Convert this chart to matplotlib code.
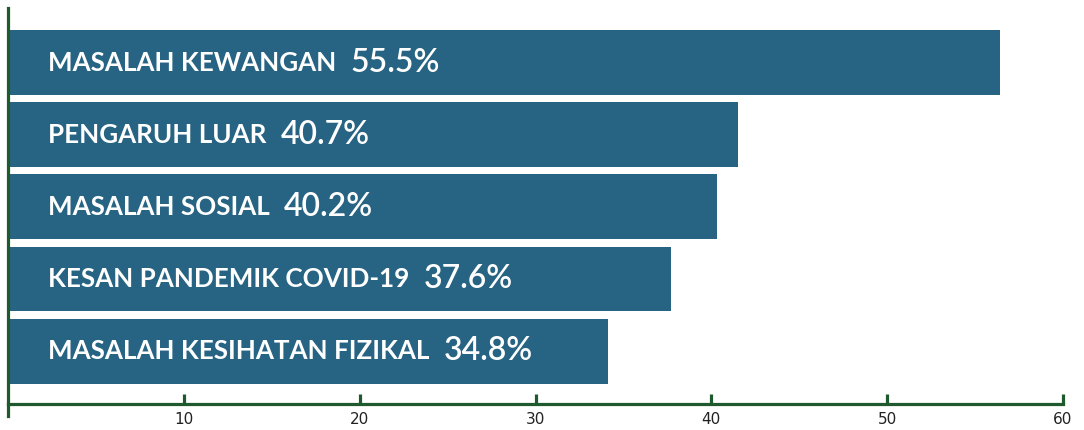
import matplotlib
matplotlib.use("Agg")
import matplotlib.pyplot as plt

categories = ["MASALAH KEWANGAN", "PENGARUH LUAR", "MASALAH SOSIAL",
              "KESAN PANDEMIK COVID-19", "MASALAH KESIHATAN FIZIKAL"]
pct_labels = ["55.5%", "40.7%", "40.2%", "37.6%", "34.8%"]
bar_lengths = [56.4, 41.5, 40.3, 37.7, 34.1]
xticks = [10, 20, 30, 40, 50, 60]

bar_color = "#276382"
axis_color = "#1f5a2f"

fig = plt.figure(figsize=(10.84, 4.3), dpi=100)
ax = fig.add_axes([8 / 1084, 1 - 416 / 430, 1055 / 1084, 408 / 430])

ypos = list(range(len(categories)))
ax.barh(ypos, bar_lengths, height=0.9, color=bar_color)

ax.set_xlim(0, 60)
ax.set_ylim(4.9, -0.757)

for y, cat, pct in zip(ypos, categories, pct_labels):
    t = ax.annotate(cat, xy=(0, y), xytext=(40, 0), textcoords="offset pixels",
                    ha="left", va="center", color="white", fontsize=18.7,
                    fontweight="bold", family="Lato")
    ax.annotate(pct, xy=(1, 0.5), xycoords=t, xytext=(14, 0),
                textcoords="offset pixels", ha="left", va="center",
                color="white", fontsize=23, fontweight=600, family="Lato")

for s in ["top", "right"]:
    ax.spines[s].set_visible(False)
ax.spines["bottom"].set_position(("data", 4.73))
ax.spines["bottom"].set_color(axis_color)
ax.spines["bottom"].set_linewidth(2.3)
ax.spines["left"].set_color(axis_color)
ax.spines["left"].set_linewidth(2.3)

ax.set_yticks([])
ax.set_xticks(xticks)
ax.set_xticklabels([str(v) for v in xticks])
ax.tick_params(axis="x", direction="in", length=7, width=2.3,
               color=axis_color, labelsize=11, labelcolor="#222222", pad=6)

fig.savefig("out.png", dpi=100)
